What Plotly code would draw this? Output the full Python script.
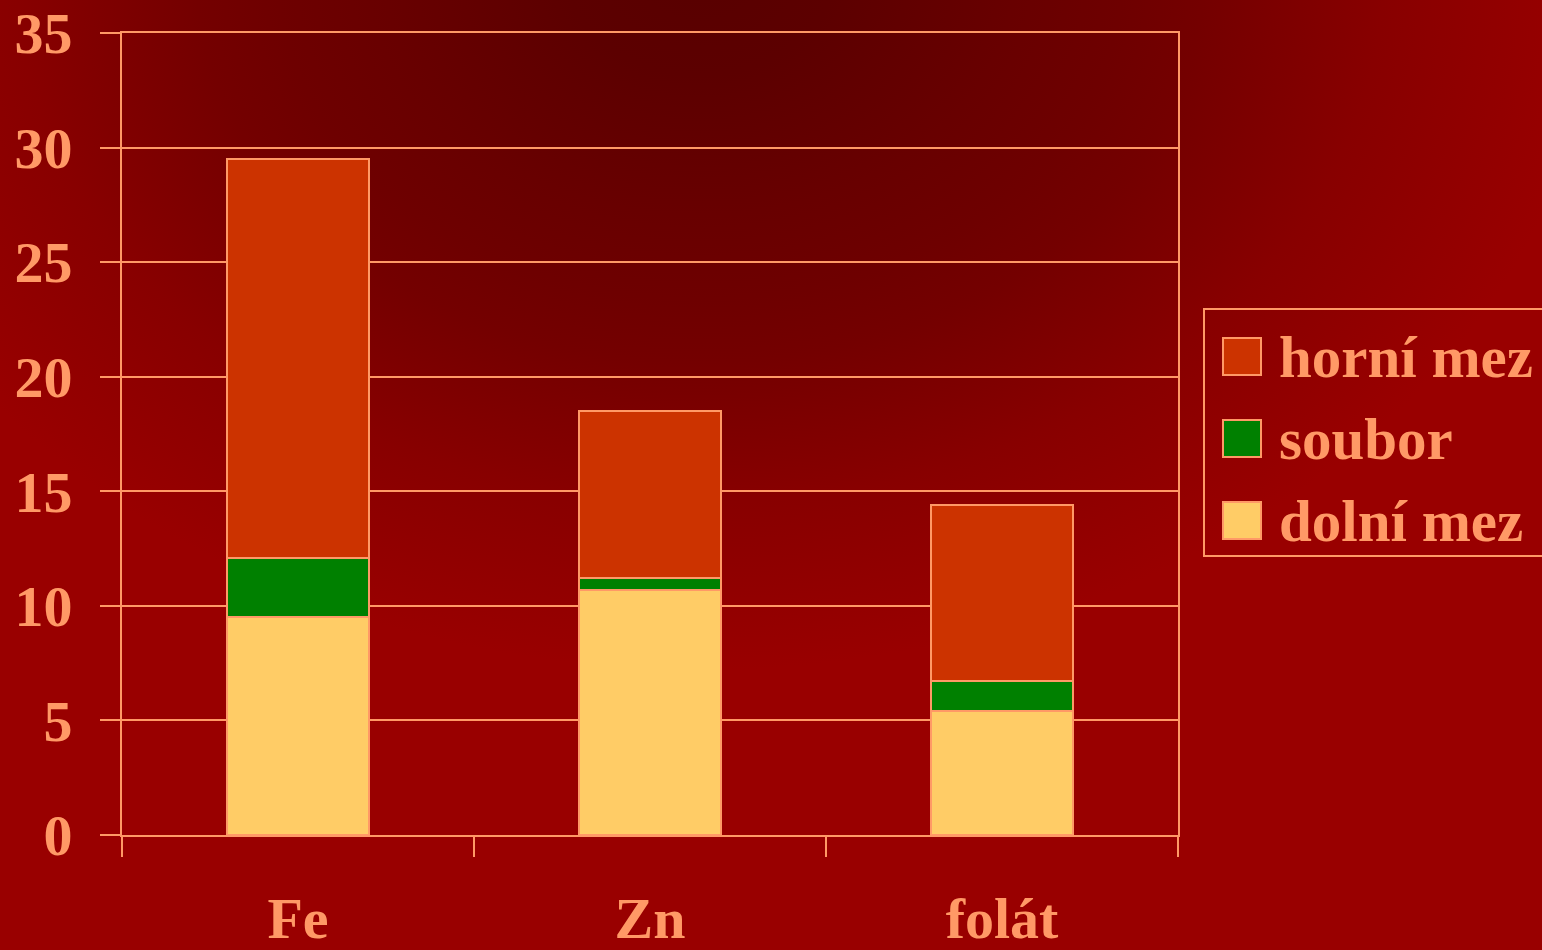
import base64
import plotly.graph_objects as go

# ---- data ----
categories = ["Fe", "Zn", "folát"]
dolni_mez = [9.5, 10.7, 5.4]
soubor = [2.6, 0.5, 1.3]
horni_mez = [17.4, 7.3, 7.7]
series_names = ["dolní mez", "soubor", "horní mez"]
series_colors = ["#FFCC66", "#008000", "#CC3300"]
y_tick_values = [0, 5, 10, 15, 20, 25, 30, 35]

# ---- layout constants ----
W, H = 1542, 950
L, R, T, B = 122, 364, 33, 115
PW, PH = W - L - R, H - T - B
TXT = "#FF9966"
FONT = "Liberation Serif, Times New Roman, serif"


def px_x(p):
    return (p - L) / PW


def px_y(p):
    return (H - B - p) / PH


stops = [(0.0, 88), (0.15, 92), (0.35, 104), (0.47, 110), (0.56, 116),
         (0.65, 125), (0.76, 136), (0.9, 146), (1.0, 153)]
stop_xml = "".join(f'<stop offset="{o}" stop-color="#{v:02x}0000"/>' for o, v in stops)
svg = f'''<svg xmlns="http://www.w3.org/2000/svg" width="{W}" height="{H}" viewBox="0 0 {W} {H}">
<defs><radialGradient id="g" gradientUnits="userSpaceOnUse" cx="700" cy="-30" r="900"
gradientTransform="translate(700,-30) scale(1,0.7778) translate(-700,30)">{stop_xml}</radialGradient></defs>
<rect x="0" y="0" width="{W}" height="{H}" fill="url(#g)"/></svg>'''
bg_src = "data:image/svg+xml;base64," + base64.b64encode(svg.encode()).decode()

series_values = [dolni_mez, soubor, horni_mez]

fig = go.Figure()
for name, vals, col in zip(series_names, series_values, series_colors):
    fig.add_trace(go.Bar(
        x=categories, y=vals, name=name, width=0.403,
        marker=dict(color=col, line=dict(color=TXT, width=2)),
        showlegend=False,
    ))

shapes = []
annotations = []
# legend box
shapes.append(dict(type="rect", xref="paper", yref="paper",
                   x0=px_x(1204), x1=px_x(1548), y0=px_y(556), y1=px_y(309),
                   line=dict(color=TXT, width=2), fillcolor="rgba(0,0,0,0)"))
legend_order = [2, 1, 0]
row_centers = [357, 439, 521]
for rc, idx in zip(row_centers, legend_order):
    shapes.append(dict(type="rect", xref="paper", yref="paper",
                       x0=px_x(1223), x1=px_x(1261), y0=px_y(rc + 18), y1=px_y(rc - 19),
                       line=dict(color=TXT, width=2), fillcolor=series_colors[idx]))
    annotations.append(dict(xref="paper", yref="paper", x=px_x(1277), y=px_y(rc),
                            xanchor="left", yanchor="middle", showarrow=False,
                            text=series_names[idx],
                            font=dict(family=FONT, size=59, color=TXT, weight="bold")))

fig.update_layout(
    width=W, height=H,
    margin=dict(l=L, r=R, t=T, b=B, pad=0, autoexpand=False),
    barmode="stack",
    paper_bgcolor="#8a0000",
    plot_bgcolor="rgba(0,0,0,0)",
    showlegend=False,
    font=dict(family=FONT, size=58, color=TXT, weight="bold"),
    images=[dict(source=bg_src, xref="paper", yref="paper",
                 x=-L / PW, y=1 + T / PH, sizex=W / PW, sizey=H / PH,
                 xanchor="left", yanchor="top", sizing="stretch", layer="below")],
    shapes=shapes,
    annotations=annotations,
    xaxis=dict(type="category", range=[-0.5, 2.5], tickson="boundaries",
               automargin=False,
               ticks="outside", ticklen=20, tickwidth=2, tickcolor=TXT,
               showline=True, linecolor=TXT, linewidth=2, mirror=True,
               showgrid=False, ticklabelstandoff=31,
               tickfont=dict(family=FONT, size=58, color=TXT, weight="bold")),
    yaxis=dict(range=[0, 35], tickvals=y_tick_values, ticks="outside",
               automargin=False,
               ticklen=20, tickwidth=2, tickcolor=TXT,
               showline=True, linecolor=TXT, linewidth=2, mirror=True,
               showgrid=True, gridcolor=TXT, gridwidth=2, zeroline=False,
               ticklabelstandoff=16,
               tickfont=dict(family=FONT, size=58, color=TXT, weight="bold")),
)

fig.write_html("out.html", config={"displayModeBar": False},
               post_script="document.body.style.margin='0';")
